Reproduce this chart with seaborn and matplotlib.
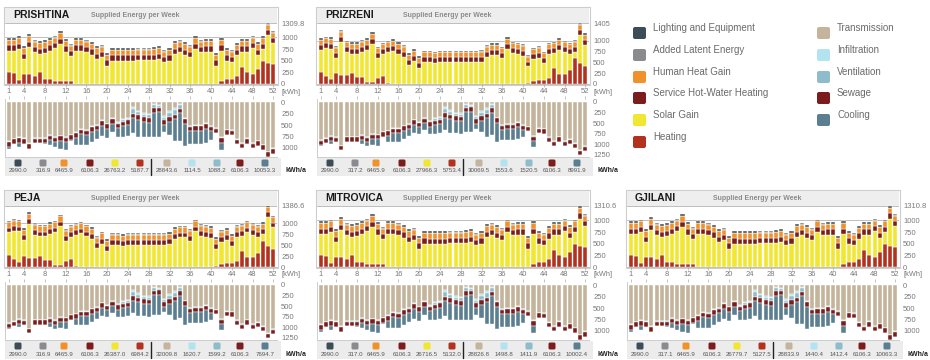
import matplotlib
matplotlib.use("Agg")
import matplotlib.pyplot as plt
import seaborn as sns
import numpy as np
from matplotlib.patches import FancyBboxPatch, Rectangle

WEEKS = list(range(1, 53))

# ---- supplied energy (top stacks), kWh per week ----
HEATING_A = [250, 236, 93, 221, 221, 180, 250, 115, 115, 57, 57, 57, 71,
             0, 0, 0, 0, 0, 0, 0, 0, 0, 0, 0, 0, 0, 0, 0, 0, 0, 0, 0, 0, 0,
             0, 0, 0, 0, 0, 0, 0,
             57, 115, 115, 180, 357, 250, 214, 330, 500, 450, 430]
SOLAR_A = [467, 481, 659, 318, 581, 502, 397, 552, 602, 710,
           805, 640, 526, 717, 717, 682, 632, 539, 575, 396,
           503, 502, 502, 502, 502, 507, 507, 512, 517, 539,
           467, 503, 647, 682, 625, 575, 752, 682, 697, 697,
           396, 660, 388, 352, 432, 340, 447, 553, 295, 252,
           592, 447]
HEATING_B = [267, 175, 115, 252, 214, 214, 252, 160, 160, 38, 38, 137, 191, 23,
             0, 0, 0, 0, 0, 0, 0, 0, 0, 0, 0, 0, 0, 0, 0, 0, 0, 0, 0, 0,
             0, 0, 0, 0, 0, 0,
             23, 61, 99, 99, 137, 366, 237, 237, 328, 595, 481, 405]
SOLAR_B = [518, 649, 693, 358, 762, 518, 442, 534, 587, 747,
           885, 458, 495, 709, 762, 694, 633, 442, 534, 366,
           503, 503, 480, 503, 503, 503, 503, 503, 503, 503,
           503, 518, 633, 671, 671, 595, 808, 709, 686, 656,
           381, 511, 511, 381, 549, 343, 548, 495, 358, 152,
           656, 495]
HOT_WATER = 110
HUMAN_HEAT = 118
LATENT = 8
LIGHTING = 32

# ---- energy losses (bottom stacks), kWh per week ----
TRANS_A = [860, 800, 770, 790, 900, 780, 780, 780, 720, 760,
           730, 760, 710, 660, 590, 610, 530, 500, 400, 470,
           355, 440, 370, 340, 95, 190, 240, 260, 35, 60,
           310, 200, 130, 30, 350, 520, 505, 505, 465, 520,
           560, 770, 600, 610, 810, 890, 790, 890, 840, 930,
           1080, 1010]
COOL_A = [40, 0, 90, 0, 0, 0, 0, 20, 110, 100,
          170, 170, 20, 170, 240, 220, 230, 190, 220, 190,
          190, 200, 240, 240, 320, 380, 340, 320, 520, 540,
          160, 290, 490, 600, 500, 280, 290, 290, 310, 200,
          0, 165, 0, 0, 0, 0, 0, 0, 0, 0,
          0, 0]
TRANS_B = [900, 860, 800, 830, 1030, 820, 820, 820, 780, 830,
           760, 770, 700, 680, 620, 620, 560, 520, 420, 480,
           380, 450, 390, 360, 110, 200, 250, 270, 45, 70,
           320, 210, 140, 40, 370, 540, 520, 520, 480, 540,
           580, 800, 620, 630, 830, 920, 820, 920, 880, 980,
           1140, 1040]
COOL_B = [30, 0, 80, 0, 0, 0, 0, 20, 100, 90,
          150, 150, 20, 150, 210, 200, 210, 170, 200, 170,
          170, 180, 210, 220, 290, 340, 300, 290, 470, 490,
          140, 260, 440, 540, 450, 250, 260, 260, 280, 180,
          0, 150, 0, 0, 0, 0, 0, 0, 0, 0,
          0, 0]
INFIL = [8, 8, 8, 8, 8, 8, 8, 8, 8, 8, 8, 8, 8, 8, 8, 8, 8, 8, 8, 8, 8,
         10, 20, 20, 50, 30, 30, 30, 30, 20, 30, 40, 40, 30, 8,
         8, 8, 8, 8, 8, 8, 8, 8, 8, 8, 8, 8, 8, 8, 8, 8, 8]
VENT = [8, 8, 8, 8, 8, 8, 8, 8, 8, 8, 8, 8, 8, 8, 8, 8, 8, 8, 8, 8, 8,
        20, 40, 40, 110, 70, 60, 60, 70, 40, 60, 90, 100, 80, 10,
        8, 8, 8, 8, 8, 8, 8, 8, 8, 8, 8, 8, 8, 8, 8, 8, 8]
SEWAGE = 100

CITIES = ["PRISHTINA", "PRIZRENI", "PEJA", "MITROVICA", "GJILANI"]
CITY_GROUP = ["A", "B", "B", "A", "A"]
TOP_MAX = ["1309.8", "1405", "1386.6", "1310.6", "1310.8"]
BOTTOM_TICKS = [[0, 250, 500, 750, 1000], [0, 250, 500, 750, 1000, 1250],
                [0, 250, 500, 750, 1000, 1250], [0, 250, 500, 750, 1000],
                [0, 250, 500, 750, 1000]]

# annual totals shown under each panel (kWh/a)
ANNUAL = {
    "PRISHTINA": ["2990.0", "316.9", "6465.9", "6106.3", "26763.2", "5187.7",
                  "28843.6", "1114.5", "1088.2", "6106.3", "10053.3"],
    "PRIZRENI": ["2990.0", "317.2", "6465.9", "6106.3", "27966.3", "5753.4",
                 "30069.5", "1553.6", "1520.5", "6106.3", "8991.9"],
    "PEJA": ["2990.0", "316.9", "6465.9", "6106.3", "26387.0", "6984.2",
             "32009.8", "1620.7", "1599.2", "6106.3", "7694.7"],
    "MITROVICA": ["2990.0", "317.0", "6465.9", "6106.3", "26716.5", "5132.0",
                  "28826.8", "1498.8", "1411.9", "6106.3", "10002.4"],
    "GJILANI": ["2990.0", "317.1", "6465.9", "6106.3", "26779.7", "5127.5",
                "28833.9", "1440.4", "1412.4", "6106.3", "10063.3"],
}

GAINS = ["Lighting and Equipment", "Added Latent Energy", "Human Heat Gain",
         "Service Hot-Water Heating", "Solar Gain", "Heating"]
LOSSES = ["Transmission", "Infiltration", "Ventilation", "Sewage", "Cooling"]

COLORS = {
    "Lighting and Equipment": "#3c4d57",
    "Added Latent Energy": "#8a8b8e",
    "Human Heat Gain": "#f0912b",
    "Service Hot-Water Heating": "#7b1d1c",
    "Solar Gain": "#f1e630",
    "Heating": "#b3321f",
    "Transmission": "#c3b49b",
    "Infiltration": "#b3e2f0",
    "Ventilation": "#8fbccb",
    "Sewage": "#7b1d1c",
    "Cooling": "#5b7f91",
}

sns.set_theme(style="white")
plt.rcParams["font.family"] = ["Liberation Sans", "DejaVu Sans"]

FW, FH = 930, 360
fig = plt.figure(figsize=(FW / 100, FH / 100), dpi=100)

bg = fig.add_axes([0, 0, 1, 1])
bg.set_xlim(0, FW)
bg.set_ylim(FH, 0)
bg.axis("off")


def px_axes(x, y, w, h):
    return fig.add_axes([x / FW, 1 - (y + h) / FH, w / FW, h / FH])


def stack(ax, layers):
    base = np.zeros(len(WEEKS))
    for values, key in layers:
        h = np.broadcast_to(np.asarray(values, dtype=float), base.shape)
        ax.bar(WEEKS, h, bottom=base, width=0.8, color=COLORS[key],
               edgecolor="white", linewidth=0.3)
        base = base + h


PANEL_ORIGIN = [(5, 0), (317, 0), (5, 183), (317, 183), (627, 183)]
W = 272
XT = [1, 4, 8, 12, 16, 20, 24, 28, 32, 36, 40, 44, 48, 52]
GREY = "#7a7a7a"
FOOT_X = [13, 38, 59, 85, 110, 135, 162, 187, 212, 235, 260]

for i, city in enumerate(CITIES):
    x0, y0 = PANEL_ORIGIN[i]
    if CITY_GROUP[i] == "A":
        heating, solar, trans, cool = HEATING_A, SOLAR_A, TRANS_A, COOL_A
    else:
        heating, solar, trans, cool = HEATING_B, SOLAR_B, TRANS_B, COOL_B

    # header strip + frame
    bg.add_patch(Rectangle((x0 - 1, y0 + 7), W + 2, 78, fill=False,
                           ec="#cdcdcd", lw=0.8))
    bg.add_patch(Rectangle((x0, y0 + 7.5), W, 15, fc="#eeeeee", ec="none"))
    bg.text(x0 + 8, y0 + 15, city, fontsize=7.5, weight="bold",
            color="#1a1a1a", va="center")
    bg.text(x0 + 86, y0 + 15.5, "Supplied Energy per Week", fontsize=5,
            weight="bold", color="#8c8c8c", va="center")

    # top: supplied energy
    top = float(TOP_MAX[i])
    ax = px_axes(x0, y0 + 23, W, 61)
    stack(ax, [(heating, "Heating"), (solar, "Solar Gain"),
               (HOT_WATER, "Service Hot-Water Heating"),
               (HUMAN_HEAT, "Human Heat Gain"),
               (LATENT, "Added Latent Energy"),
               (LIGHTING, "Lighting and Equipment")])
    ax.set_xlim(0.3, 52.7)
    ax.set_ylim(0, top)
    ax.axhline(1000, color="#bdbdbd", lw=0.7, zorder=0)
    ax.axhline(top, color="#bdbdbd", lw=0.7, zorder=0)
    ax.yaxis.tick_right()
    ax.set_yticks([0, 250, 500, 750, 1000, top])
    ax.set_yticklabels(["0", "250", "500", "750", "1000", TOP_MAX[i]])
    ax.set_xticks(XT)
    ax.set_xticklabels([str(t) for t in XT])
    ax.tick_params(axis="y", length=0, pad=3, labelsize=5.5, labelcolor=GREY)
    ax.tick_params(axis="x", length=2, width=0.5, color="#aaaaaa", pad=1,
                   labelsize=5.5, labelcolor=GREY, bottom=True)
    for s in ["left", "top", "right"]:
        ax.spines[s].set_visible(False)
    ax.spines["bottom"].set_color("#b5b5b5")
    ax.spines["bottom"].set_linewidth(0.6)
    bg.text(x0 + W + 4, y0 + 92, "[kWh]", fontsize=5.3, color=GREY,
            va="center")

    # bottom: losses (drawn downward)
    bticks = BOTTOM_TICKS[i]
    bmax = 1200 if bticks[-1] == 1000 else 1300
    axb = px_axes(x0, y0 + 99, W, 58)
    stack(axb, [(trans, "Transmission"), (INFIL, "Infiltration"),
                (VENT, "Ventilation"), (SEWAGE, "Sewage"), (cool, "Cooling")])
    axb.set_xlim(0.3, 52.7)
    axb.set_ylim(bmax, -70)
    axb.yaxis.tick_right()
    axb.set_yticks(bticks)
    axb.set_yticklabels([str(t) for t in bticks])
    axb.xaxis.tick_top()
    axb.set_xticks(XT)
    axb.set_xticklabels([])
    axb.tick_params(axis="y", length=0, pad=3, labelsize=5.5, labelcolor=GREY)
    axb.tick_params(axis="x", length=2, width=0.5, color="#aaaaaa", top=True)
    for s in ["top", "right"]:
        axb.spines[s].set_visible(False)
    for s in ["left", "bottom"]:
        axb.spines[s].set_color("#cdcdcd")
        axb.spines[s].set_linewidth(0.7)

    # footer with annual sums
    bg.add_patch(Rectangle((x0, y0 + 157.5), W + 4, 18, fc="#ececec",
                           ec="none"))
    keys = GAINS + LOSSES
    for k, (dx, key) in enumerate(zip(FOOT_X, keys)):
        cx = x0 + dx
        bg.add_patch(FancyBboxPatch((cx - 3.5, y0 + 159.5), 7, 7,
                                    boxstyle="round,pad=0,rounding_size=1.5",
                                    fc=COLORS[key], ec="none"))
        bg.text(cx, y0 + 171, ANNUAL[city][k], fontsize=4.4, color="#555555",
                ha="center", va="center")
    bg.plot([x0 + 146, x0 + 146], [y0 + 159, y0 + 175], color="#222222",
            lw=1)
    bg.text(x0 + W + 8, y0 + 171, "kWh/a", fontsize=5, weight="bold",
            color="#222222", va="center")

# legend block
LEG_ROWS = [33, 55, 77, 98, 120, 142]
for col, (names, sx) in enumerate([(GAINS, 633), (LOSSES, 817)]):
    for name, yc in zip(names, LEG_ROWS):
        bg.add_patch(FancyBboxPatch((sx, yc - 6), 13, 12,
                                    boxstyle="round,pad=0,rounding_size=2",
                                    fc=COLORS[name], ec="none"))
        bg.text(sx + 20, yc - 5, name, fontsize=7, color="#6b6b6b",
                va="center")

fig.savefig("out.png", dpi=100)
